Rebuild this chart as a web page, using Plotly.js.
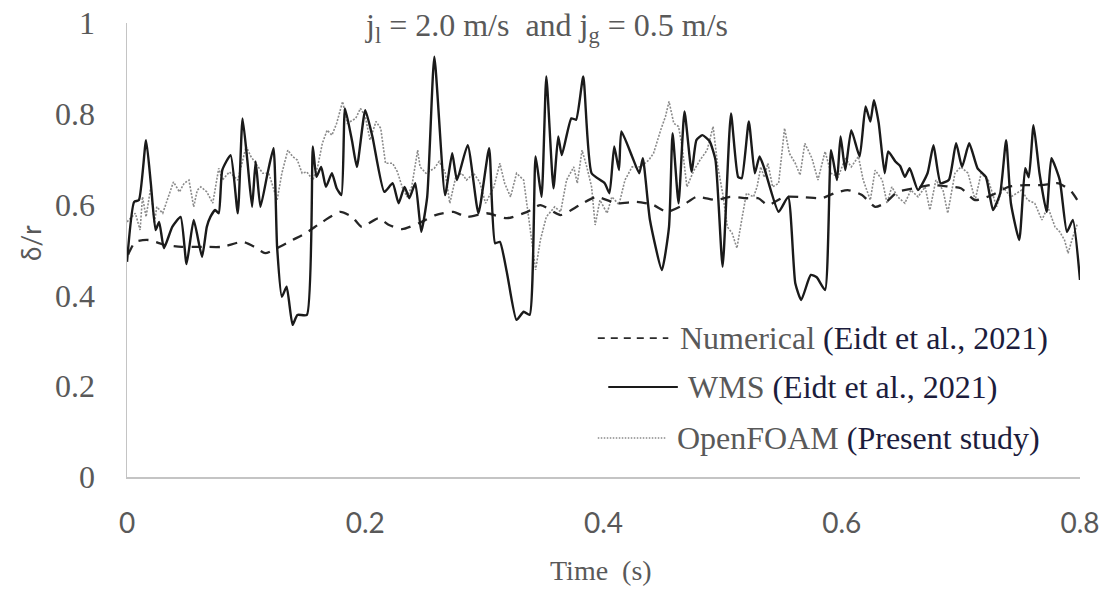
<!DOCTYPE html>
<html>
<head>
<meta charset="utf-8">
<script src="https://cdn.plot.ly/plotly-3.0.1.min.js"></script>
<style>
  html, body { margin: 0; padding: 0; background: #ffffff; }
  #chart { width: 1103px; height: 590px; }
</style>
</head>
<body>
<div id="chart"></div>
<script>
// Film thickness ratio δ/r over time, jl = 2.0 m/s and jg = 0.5 m/s

// Numerical (Eidt et al., 2021)
const numTime = [0.001,0.002,0.007,0.018,0.032,0.046,0.063,0.080,0.097,0.107,0.116,0.126,0.139,0.150,0.164,0.179,0.189,0.197,0.211,0.220,0.231,0.245,0.259,0.274,0.285,0.302,0.319,0.336,0.347,0.364,0.380,0.394,0.411,0.428,0.442,0.453,0.467,0.478,0.495,0.506,0.520,0.530,0.538,0.552,0.569,0.583,0.594,0.605,0.617,0.628,0.636,0.647,0.661,0.675,0.689,0.700,0.712,0.726,0.740,0.754,0.768,0.782,0.793,0.800];
const numVal  = [0.490,0.496,0.518,0.522,0.511,0.507,0.507,0.507,0.518,0.507,0.493,0.504,0.522,0.537,0.562,0.584,0.573,0.551,0.570,0.555,0.546,0.559,0.577,0.584,0.573,0.581,0.570,0.584,0.599,0.577,0.599,0.617,0.603,0.606,0.599,0.584,0.599,0.617,0.610,0.617,0.614,0.614,0.599,0.617,0.616,0.614,0.625,0.632,0.621,0.595,0.603,0.628,0.636,0.643,0.640,0.636,0.610,0.621,0.639,0.643,0.643,0.647,0.628,0.600];

// WMS (Eidt et al., 2021)
const wmsTime = [0.000,0.006,0.010,0.016,0.020,0.024,0.027,0.031,0.038,0.045,0.050,0.056,0.063,0.067,0.070,0.074,0.077,0.080,0.087,0.093,0.097,0.101,0.105,0.108,0.112,0.118,0.123,0.126,0.130,0.134,0.139,0.143,0.151,0.156,0.159,0.163,0.167,0.172,0.176,0.180,0.183,0.189,0.193,0.200,0.206,0.216,0.223,0.228,0.233,0.237,0.242,0.247,0.252,0.258,0.267,0.273,0.277,0.286,0.295,0.304,0.309,0.313,0.319,0.327,0.333,0.338,0.343,0.348,0.352,0.358,0.362,0.365,0.373,0.377,0.383,0.390,0.401,0.405,0.409,0.413,0.415,0.424,0.430,0.433,0.439,0.449,0.455,0.458,0.463,0.468,0.474,0.478,0.483,0.489,0.494,0.500,0.507,0.513,0.516,0.522,0.527,0.531,0.535,0.547,0.555,0.561,0.566,0.574,0.579,0.586,0.591,0.596,0.599,0.603,0.608,0.615,0.620,0.624,0.627,0.631,0.636,0.639,0.645,0.649,0.653,0.657,0.664,0.672,0.677,0.683,0.690,0.696,0.701,0.707,0.714,0.721,0.727,0.733,0.738,0.742,0.749,0.754,0.757,0.761,0.766,0.772,0.776,0.783,0.789,0.794,0.800];
const wmsVal  = [0.474,0.606,0.610,0.742,0.647,0.544,0.562,0.504,0.551,0.573,0.469,0.566,0.485,0.551,0.573,0.588,0.581,0.676,0.709,0.581,0.790,0.698,0.595,0.695,0.595,0.669,0.724,0.507,0.397,0.419,0.335,0.357,0.357,0.728,0.661,0.683,0.639,0.669,0.636,0.621,0.812,0.739,0.683,0.808,0.750,0.628,0.647,0.603,0.639,0.614,0.647,0.540,0.617,0.926,0.621,0.713,0.654,0.731,0.581,0.724,0.515,0.518,0.449,0.346,0.364,0.357,0.706,0.617,0.882,0.636,0.750,0.709,0.790,0.787,0.882,0.669,0.647,0.625,0.728,0.676,0.761,0.706,0.669,0.702,0.566,0.456,0.551,0.757,0.603,0.805,0.672,0.742,0.753,0.740,0.698,0.463,0.801,0.661,0.658,0.783,0.669,0.706,0.680,0.584,0.617,0.427,0.390,0.445,0.440,0.412,0.720,0.654,0.750,0.676,0.764,0.706,0.816,0.783,0.830,0.780,0.669,0.717,0.695,0.685,0.661,0.680,0.632,0.669,0.731,0.647,0.655,0.735,0.683,0.735,0.680,0.661,0.588,0.625,0.742,0.603,0.522,0.680,0.660,0.775,0.669,0.584,0.702,0.654,0.540,0.566,0.434];

// OpenFOAM (Present study)
const ofTime = [0.000,0.007,0.011,0.013,0.016,0.020,0.023,0.025,0.030,0.035,0.039,0.044,0.048,0.052,0.056,0.059,0.062,0.067,0.072,0.077,0.080,0.086,0.093,0.100,0.104,0.108,0.114,0.119,0.126,0.130,0.135,0.139,0.143,0.147,0.151,0.156,0.160,0.164,0.168,0.172,0.176,0.181,0.185,0.192,0.196,0.200,0.204,0.209,0.213,0.217,0.223,0.227,0.231,0.235,0.239,0.244,0.246,0.251,0.258,0.262,0.267,0.271,0.276,0.281,0.285,0.291,0.296,0.301,0.308,0.313,0.317,0.322,0.327,0.333,0.337,0.343,0.347,0.352,0.359,0.364,0.369,0.375,0.378,0.382,0.386,0.390,0.393,0.397,0.403,0.407,0.413,0.418,0.424,0.431,0.438,0.442,0.448,0.452,0.455,0.459,0.463,0.466,0.470,0.476,0.481,0.487,0.492,0.496,0.500,0.504,0.508,0.512,0.516,0.520,0.526,0.529,0.532,0.535,0.538,0.542,0.547,0.552,0.556,0.561,0.565,0.569,0.575,0.580,0.586,0.591,0.597,0.603,0.608,0.614,0.618,0.624,0.628,0.634,0.638,0.642,0.647,0.653,0.658,0.664,0.670,0.674,0.679,0.685,0.689,0.695,0.700,0.706,0.712,0.717,0.723,0.730,0.735,0.742,0.751,0.756,0.762,0.768,0.773,0.779,0.783,0.787,0.790,0.794,0.798];
const ofVal  = [0.562,0.581,0.544,0.617,0.573,0.639,0.559,0.595,0.581,0.617,0.650,0.628,0.647,0.654,0.595,0.632,0.639,0.628,0.603,0.680,0.654,0.672,0.654,0.728,0.706,0.691,0.669,0.669,0.610,0.669,0.720,0.706,0.698,0.669,0.672,0.654,0.683,0.735,0.764,0.753,0.779,0.827,0.779,0.790,0.812,0.794,0.742,0.783,0.768,0.691,0.691,0.672,0.639,0.617,0.639,0.720,0.683,0.669,0.680,0.695,0.672,0.603,0.661,0.669,0.654,0.669,0.650,0.603,0.639,0.691,0.647,0.617,0.669,0.654,0.573,0.456,0.522,0.573,0.595,0.584,0.654,0.683,0.647,0.720,0.683,0.639,0.555,0.610,0.581,0.617,0.600,0.654,0.683,0.683,0.698,0.713,0.764,0.794,0.827,0.779,0.772,0.728,0.639,0.676,0.698,0.720,0.772,0.683,0.625,0.551,0.537,0.504,0.566,0.625,0.617,0.640,0.683,0.660,0.691,0.639,0.647,0.768,0.713,0.691,0.665,0.735,0.702,0.654,0.717,0.669,0.661,0.702,0.683,0.706,0.654,0.610,0.676,0.654,0.603,0.639,0.617,0.603,0.632,0.617,0.639,0.588,0.654,0.632,0.581,0.669,0.683,0.669,0.610,0.669,0.654,0.595,0.639,0.617,0.632,0.610,0.603,0.566,0.595,0.551,0.540,0.522,0.493,0.529,0.559];

const xTicks = [0, 0.2, 0.4, 0.6, 0.8];
const yTicks = [0, 0.2, 0.4, 0.6, 0.8, 1];

const GREY_TEXT = '#595959';
const REF_TEXT = '#1c1c3c';
const SERIF = '"Liberation Serif", "Times New Roman", serif';
const SANS = 'Lato, "Liberation Sans", sans-serif';

const traces = [
  {
    x: ofTime, y: ofVal, type: 'scatter', mode: 'lines', name: 'OpenFOAM',
    line: { color: '#8a8a8a', width: 1.6, dash: '2px,1.5px' },
    showlegend: false, hoverinfo: 'skip'
  },
  {
    x: numTime, y: numVal, type: 'scatter', mode: 'lines', name: 'Numerical',
    line: { color: '#262626', width: 2.3, dash: '10px,8px', shape: 'spline', smoothing: 0.6 },
    showlegend: false, hoverinfo: 'skip'
  },
  {
    x: wmsTime, y: wmsVal, type: 'scatter', mode: 'lines', name: 'WMS',
    line: { color: '#1a1a1a', width: 2.4, shape: 'spline', smoothing: 0.5 },
    showlegend: false, hoverinfo: 'skip'
  }
];

// Hand-built key in the lower right of the plot area
const keyRows = [
  { y: 0.306, x0: 0.494, x1: 0.568, tx: 0.578, dash: '7px,6px', color: '#2b2b2b', width: 1.6,
    label: 'Numerical', ref: '(Eidt et al., 2021)' },
  { y: 0.198, x0: 0.505, x1: 0.578, tx: 0.587, dash: 'solid', color: '#1a1a1a', width: 2,
    label: 'WMS', ref: '(Eidt et al., 2021)' },
  { y: 0.086, x0: 0.494, x1: 0.565, tx: 0.575, dash: '1.5px,1.5px', color: '#8a8a8a', width: 1.4,
    label: 'OpenFOAM', ref: '(Present study)' }
];

const shapes = keyRows.map(r => ({
  type: 'line', xref: 'paper', yref: 'paper',
  x0: r.x0, x1: r.x1, y0: r.y, y1: r.y,
  line: { color: r.color, width: r.width, dash: r.dash }
}));

const annotations = keyRows.map(r => ({
  xref: 'paper', yref: 'paper', x: r.tx, y: r.y,
  xanchor: 'left', yanchor: 'middle', showarrow: false,
  text: '<span style="color:' + GREY_TEXT + '">' + r.label + '</span> ' +
        '<span style="color:' + REF_TEXT + '">' + r.ref + '</span>',
  font: { family: SERIF, size: 32, color: GREY_TEXT }
}));

// Chart heading
annotations.push({
  xref: 'paper', yref: 'paper', x: 0.44, y: 0.99,
  xanchor: 'center', yanchor: 'middle', showarrow: false,
  text: 'j<sub>l</sub> = 2.0 m/s  and j<sub>g</sub> = 0.5 m/s',
  font: { family: SERIF, size: 32, color: GREY_TEXT }
});

// Axis titles
annotations.push({
  xref: 'paper', yref: 'paper', x: -0.101, y: 0.515,
  xanchor: 'center', yanchor: 'middle', showarrow: false, textangle: -90,
  text: 'δ/r',
  font: { family: SANS, size: 26, color: GREY_TEXT }
});
annotations.push({
  xref: 'paper', yref: 'paper', x: 0.497, y: -0.205,
  xanchor: 'center', yanchor: 'middle', showarrow: false,
  text: 'Time  (s)',
  font: { family: SERIF, size: 28, color: GREY_TEXT }
});

const layout = {
  width: 1103, height: 590,
  margin: { l: 127, r: 23, t: 23, b: 113 },
  paper_bgcolor: '#ffffff', plot_bgcolor: '#ffffff',
  showlegend: false,
  xaxis: {
    range: [0, 0.8], tickvals: xTicks, ticktext: xTicks.map(String),
    showgrid: false, zeroline: false,
    showline: true, linecolor: '#c4c4c4', linewidth: 1.5,
    ticks: '', ticklabelstandoff: 21,
    tickfont: { family: SANS, size: 28, color: GREY_TEXT },
    fixedrange: true
  },
  yaxis: {
    range: [0, 1], tickvals: yTicks, ticktext: yTicks.map(String),
    showgrid: false, zeroline: false,
    showline: true, linecolor: '#c4c4c4', linewidth: 1.5,
    ticks: '', ticklabelstandoff: 24,
    tickfont: { family: SERIF, size: 32, color: GREY_TEXT },
    fixedrange: true
  },
  shapes: shapes,
  annotations: annotations
};

Plotly.newPlot('chart', traces, layout, { displayModeBar: false, staticPlot: true });
</script>
</body>
</html>
